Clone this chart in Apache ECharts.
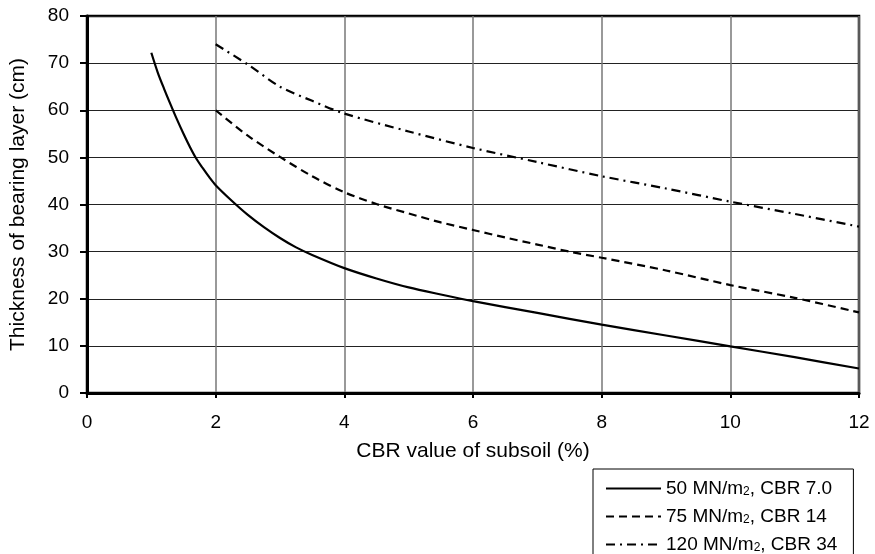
<!DOCTYPE html>
<html>
<head>
<meta charset="utf-8">
<script src="https://cdn.jsdelivr.net/npm/echarts@6/dist/echarts.min.js"></script>
<style>
html,body{margin:0;padding:0;background:#fff;}
#chart{width:875px;height:554px;}
</style>
</head>
<body>
<div id="chart"></div>
<script>
// Data
var seriesNames = ['50 MN/m2, CBR 7.0', '75 MN/m2, CBR 14', '120 MN/m2, CBR 34'];
var legendLabels = ['50 MN/m{s|2}, CBR 7.0', '75 MN/m{s|2}, CBR 14', '120 MN/m{s|2}, CBR 34'];

var cbr50 = [1.0, 1.1, 1.2, 1.3, 1.4, 1.5, 1.6, 1.7, 1.8, 1.9, 2.0, 2.25, 2.5, 2.75, 3.0, 3.25, 3.5, 4.0, 4.5, 5.0, 5.5, 6.0, 7.0, 8.0, 9.0, 10.0, 11.0, 12.0];
var thick50 = [72.2, 68.0, 64.5, 61.2, 58.0, 55.0, 52.2, 49.7, 47.7, 45.8, 44.1, 40.8, 37.8, 35.2, 32.9, 30.9, 29.3, 26.5, 24.3, 22.4, 20.9, 19.5, 17.0, 14.5, 12.2, 9.9, 7.6, 5.2];

var cbr75 = [2.0, 2.5, 3.0, 3.5, 4.0, 4.5, 5.0, 5.5, 6.0, 6.5, 7.0, 7.5, 8.0, 9.0, 10.0, 11.0, 12.0];
var thick75 = [60.0, 54.6, 50.1, 46.0, 42.6, 40.1, 38.1, 36.2, 34.6, 33.0, 31.5, 30.0, 28.7, 26.0, 22.9, 20.2, 17.1];

var cbr120 = [2.0, 2.5, 3.0, 3.5, 4.0, 5.0, 6.0, 7.0, 8.0, 9.0, 10.0, 11.0, 12.0];
var thick120 = [74.0, 69.7, 65.0, 62.0, 59.3, 55.5, 52.0, 49.0, 46.0, 43.4, 40.6, 38.0, 35.3];

var xTicks = [0, 2, 4, 6, 8, 10, 12];
var yTicks = [0, 10, 20, 30, 40, 50, 60, 70, 80];

function pairs(xs, ys) { return xs.map(function (x, i) { return [x, ys[i]]; }); }

var font = 'Liberation Sans, Arial, sans-serif';
var chart = echarts.init(document.getElementById('chart'), null, {renderer: 'canvas'});
var dashTypes = ['solid', [8, 5], [9, 5, 2, 5]];
var dataSets = [pairs(cbr50, thick50), pairs(cbr75, thick75), pairs(cbr120, thick120)];

chart.setOption({
  animation: false,
  backgroundColor: '#fff',
  grid: {
    left: 87, right: 16, top: 16, bottom: 161,
    show: true, borderColor: '#000', borderWidth: 2.5, backgroundColor: 'transparent'
  },
  xAxis: {
    type: 'value', min: xTicks[0], max: xTicks[xTicks.length - 1], interval: 2,
    name: 'CBR value of subsoil (%)', nameLocation: 'middle', nameGap: 48,
    nameTextStyle: {fontFamily: font, fontSize: 21, color: '#000'},
    axisLine: {show: true, onZero: false, lineStyle: {color: '#000', width: 3}},
    axisTick: {show: true, length: 5, lineStyle: {color: '#000', width: 2}},
    axisLabel: {fontFamily: font, fontSize: 19, color: '#000', margin: 20},
    splitLine: {show: true, lineStyle: {color: '#777', width: 1.5}}
  },
  yAxis: {
    type: 'value', min: yTicks[0], max: yTicks[yTicks.length - 1], interval: 10,
    name: 'Thickness of bearing layer (cm)', nameLocation: 'middle', nameGap: 58,
    nameTextStyle: {fontFamily: font, fontSize: 21, color: '#000'},
    axisLine: {show: true, onZero: false, lineStyle: {color: '#000', width: 3}},
    axisTick: {show: true, length: 7, lineStyle: {color: '#000', width: 2}},
    axisLabel: {fontFamily: font, fontSize: 19, color: '#000', margin: 18},
    splitLine: {show: true, lineStyle: {color: '#222', width: 1}}
  },
  legend: {
    orient: 'vertical',
    left: 593, top: 469, height: 140,
    padding: [10, 16, 10, 12],
    borderColor: '#000', borderWidth: 1,
    backgroundColor: '#fff',
    itemWidth: 55, itemHeight: 14, itemGap: 9,
    data: seriesNames,
    itemStyle: {opacity: 0, borderWidth: 0},
    formatter: function (name) { return legendLabels[seriesNames.indexOf(name)]; },
    textStyle: {
      fontFamily: font, fontSize: 19, color: '#000', lineHeight: 18,
      rich: {s: {fontFamily: font, fontSize: 12, color: '#000', lineHeight: 8, verticalAlign: 'bottom'}}
    }
  },
  series: seriesNames.map(function (n, i) {
    return {
      name: n, type: 'line', data: dataSets[i],
      smooth: 0.3, symbol: 'none', showSymbol: false,
      lineStyle: {color: '#000', width: 2.2, type: dashTypes[i]},
      itemStyle: {color: '#000'}
    };
  })
});
</script>
</body>
</html>
